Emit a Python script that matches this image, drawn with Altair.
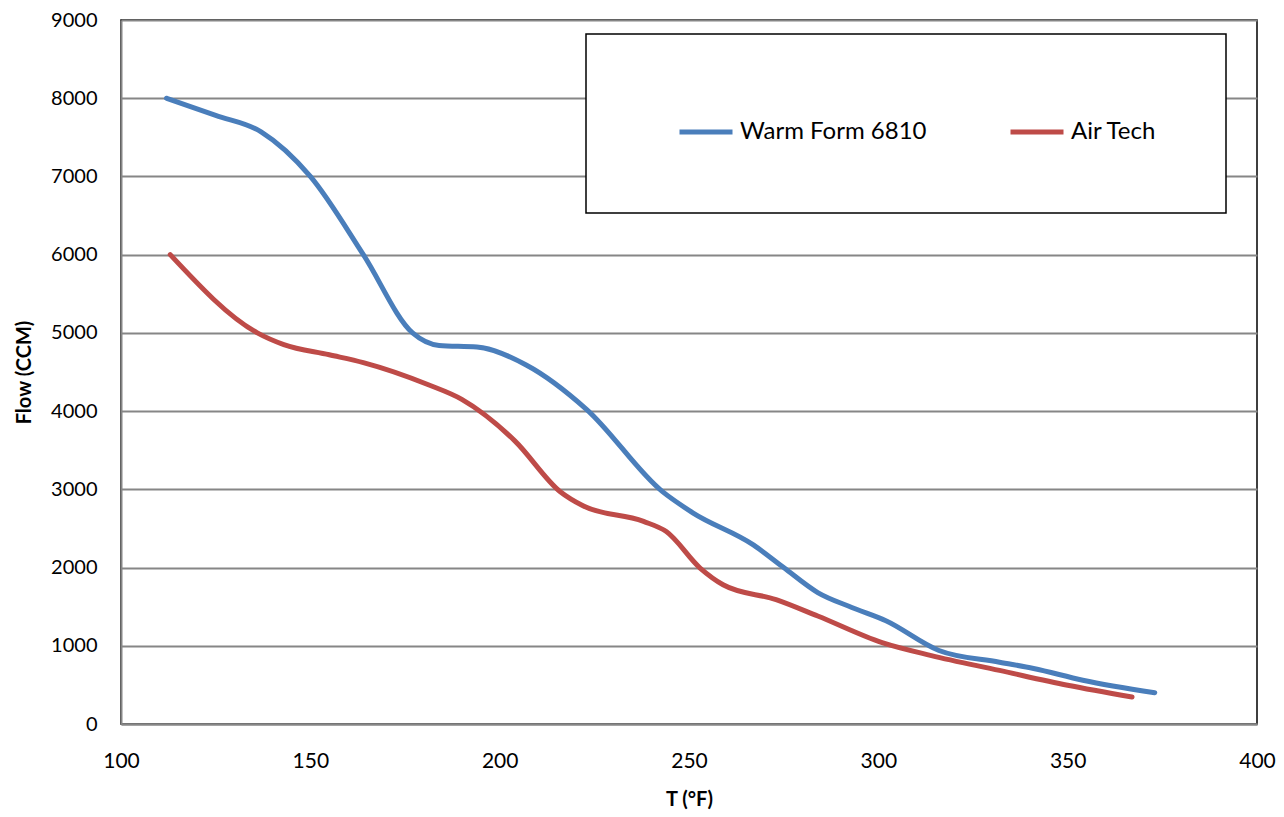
import altair as alt
import pandas as pd

blue_t = [112, 125, 137, 150, 164, 177, 184, 194, 207, 223, 243, 251, 267, 275, 284, 293, 302, 316, 332, 341, 354, 373]
blue_f = [8000, 7780, 7570, 7000, 6000, 5000, 4840, 4820, 4590, 4020, 2970, 2700, 2290, 2000, 1680, 1490, 1320, 940, 790, 710, 560, 400]

red_t = [113, 136, 143, 155, 164, 181, 190, 204, 216, 222, 238, 244, 253, 259, 273, 284, 301, 314, 332, 350, 367]
red_f = [6000, 5000, 4850, 4720, 4620, 4340, 4150, 3620, 2970, 2790, 2590, 2460, 1990, 1780, 1590, 1380, 1040, 875, 685, 495, 345]

series_names = ["Warm Form 6810", "Air Tech"]
series_colors = ["#4A7EBB", "#BE4B48"]

df = pd.concat([
    pd.DataFrame({"T": blue_t, "F": blue_f, "s": series_names[0], "o": range(len(blue_t))}),
    pd.DataFrame({"T": red_t, "F": red_f, "s": series_names[1], "o": range(len(red_t))}),
])

font = "Lato"

chart = alt.Chart(df).mark_line(strokeWidth=5, interpolate="monotone", strokeCap="round").encode(
    x=alt.X("T:Q", scale=alt.Scale(domain=[100, 400], nice=False),
            axis=alt.Axis(title="T (°F)", values=[100, 150, 200, 250, 300, 350, 400],
                          grid=False, ticks=False, labelFlush=False,
                          labelPadding=26, titlePadding=18)),
    y=alt.Y("F:Q", scale=alt.Scale(domain=[0, 9000], nice=False),
            axis=alt.Axis(title="Flow (CCM)", values=list(range(0, 9001, 1000)), format="d",
                          grid=True, ticks=False, labelFlush=False,
                          labelPadding=24, titlePadding=16)),
    color=alt.Color("s:N", scale=alt.Scale(domain=series_names, range=series_colors),
                    legend=alt.Legend(title=None, orient="none", legendX=465, legendY=14,
                                      direction="horizontal", columns=2, columnPadding=59,
                                      symbolType="stroke", symbolSize=2809, symbolStrokeWidth=5,
                                      symbolOffset=22,
                                      labelOffset=5, labelFontSize=24, labelFont=font, labelLimit=400,
                                      labelColor="black", padding=69,
                                      strokeColor="black", fillColor="white")),
    order="o:Q",
).properties(
    width=1136, height=704,
    autosize=alt.AutoSizeParams(type="none"),
    padding={"left": 113, "top": 12, "right": 19, "bottom": 90},
).configure_view(
    stroke="black", strokeWidth=1.5
).configure_axis(
    labelFont=font, labelFontSize=21, labelColor="black",
    titleFont=font, titleFontSize=20, titleFontWeight="bold", titleColor="black",
    domainColor="#868686", domainWidth=2, gridColor="#868686", gridWidth=2, gridOpacity=1,
).configure_axisY(
    labelFontSize=20
).configure_legend(
    strokeWidth=1.5
)

chart.save("out.html", embed_options={"renderer": "svg", "actions": False})
